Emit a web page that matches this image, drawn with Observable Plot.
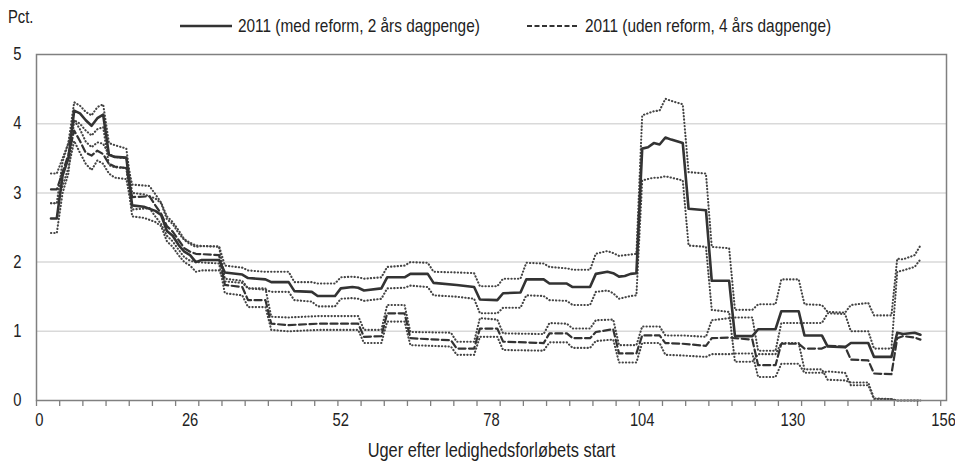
<!DOCTYPE html>
<html lang="da">
<head>
<meta charset="utf-8">
<script src="https://cdn.jsdelivr.net/npm/d3@7"></script>
<script src="https://cdn.jsdelivr.net/npm/@observablehq/plot@0.6"></script>
<style>
  html, body { margin: 0; padding: 0; background: #fff; }
  #wrap { position: relative; width: 955px; height: 465px; font-family: "Liberation Sans", Arial, sans-serif; color: #222; }
  #pct { position: absolute; left: 8px; top: 7px; font-size: 18px; transform: scaleX(0.82); transform-origin: left center; }
  .legend { position: absolute; top: 15px; font-size: 19px; display: flex; align-items: center; white-space: nowrap; }
  .legend svg { margin-right: 6px; flex: none; }
  .legend span { display: inline-block; transform: scaleX(0.81); transform-origin: left center; }
</style>
</head>
<body>
<div id="wrap">
  <div id="chart"></div>
  <div id="pct">Pct.</div>
  <div class="legend" style="left:180px"><svg width="52" height="10"><line x1="0" x2="52" y1="5" y2="5" stroke="#333" stroke-width="2.5"/></svg><span id="lab1"></span></div>
  <div class="legend" style="left:527px"><svg width="52" height="10"><line x1="0" x2="52" y1="5" y2="5" stroke="#333" stroke-width="2" stroke-dasharray="5,2.5"/></svg><span id="lab2"></span></div>
</div>
<script>
// Series names
const seriesNames = ["2011 (med reform, 2 års dagpenge)", "2011 (uden reform, 4 års dagpenge)"];

// Axis ticks
const yTicks = [0, 1, 2, 3, 4, 5];
const xLabels = [0, 26, 52, 78, 104, 130, 156];
const xTickMarks = d3.range(-0.5, 156, 4);

// Med reform: weeks where the series changes, with estimate and band
const weeksReform = [
  2, 3, 4, 5, 6, 7, 8, 9, 10, 11, 12,
  13, 15, 16, 18, 20, 21, 22, 23, 24, 25,
  26, 27, 28, 31, 32, 35, 36, 39, 40, 43,
  44, 47, 48, 51, 52, 54, 55, 56, 59, 60,
  63, 64, 67, 68, 72, 75, 76, 79, 80, 83,
  84, 87, 88, 91, 92, 95, 96, 98, 99, 100,
  101, 102, 103, 104, 105, 106, 107, 108, 109, 111,
  112, 115, 116, 119, 120, 123, 124, 127, 128, 131,
  132, 135, 136, 139, 140, 143, 144, 147, 148, 149,
  151, 152
];
const reformMid = [
  2.63, 2.63, 3.25, 3.50, 4.19, 4.15, 4.05, 3.97, 4.08, 4.13, 3.55,
  3.52, 3.51, 2.82, 2.80, 2.74, 2.68, 2.45, 2.38, 2.25, 2.15,
  2.10, 2.00, 2.03, 2.03, 1.85, 1.82, 1.77, 1.75, 1.71, 1.71,
  1.58, 1.57, 1.51, 1.51, 1.62, 1.64, 1.63, 1.59, 1.62, 1.78,
  1.78, 1.83, 1.83, 1.70, 1.67, 1.64, 1.46, 1.45, 1.55, 1.56,
  1.75, 1.75, 1.69, 1.69, 1.64, 1.64, 1.83, 1.86, 1.84, 1.79,
  1.80, 1.83, 1.84, 3.64, 3.66, 3.72, 3.70, 3.80, 3.77, 3.72,
  2.77, 2.75, 1.73, 1.73, 0.93, 0.93, 1.03, 1.03, 1.29, 1.29,
  0.94, 0.94, 0.78, 0.77, 0.83, 0.83, 0.63, 0.63, 0.98, 0.96,
  0.98, 0.95
];
const reformHigh = [
  2.85, 2.85, 3.45, 3.72, 4.31, 4.26, 4.17, 4.12, 4.24, 4.28, 3.72,
  3.69, 3.64, 3.00, 2.98, 2.92, 2.85, 2.62, 2.55, 2.42, 2.32,
  2.26, 2.22, 2.23, 2.23, 1.95, 1.92, 1.88, 1.86, 1.86, 1.86,
  1.71, 1.71, 1.69, 1.69, 1.78, 1.79, 1.78, 1.76, 1.78, 1.93,
  1.95, 2.00, 1.99, 1.86, 1.85, 1.84, 1.65, 1.65, 1.76, 1.76,
  1.99, 1.98, 1.93, 1.91, 1.89, 1.89, 2.12, 2.16, 2.13, 2.09,
  2.10, 2.11, 2.12, 4.12, 4.15, 4.18, 4.19, 4.36, 4.33, 4.28,
  3.30, 3.28, 2.22, 2.20, 1.31, 1.31, 1.39, 1.39, 1.75, 1.75,
  1.39, 1.38, 1.28, 1.27, 1.38, 1.41, 1.23, 1.23, 2.05, 2.04,
  2.10, 2.24
];
const reformLow = [
  2.42, 2.42, 3.00, 3.28, 4.05, 4.00, 3.90, 3.83, 3.92, 3.95, 3.40,
  3.37, 3.36, 2.66, 2.64, 2.58, 2.52, 2.30, 2.22, 2.10, 2.00,
  1.95, 1.86, 1.88, 1.88, 1.72, 1.70, 1.62, 1.60, 1.57, 1.57,
  1.45, 1.43, 1.36, 1.36, 1.47, 1.48, 1.47, 1.44, 1.47, 1.62,
  1.63, 1.66, 1.64, 1.52, 1.50, 1.47, 1.26, 1.26, 1.34, 1.34,
  1.52, 1.51, 1.45, 1.44, 1.38, 1.38, 1.57, 1.59, 1.55, 1.47,
  1.49, 1.51, 1.52, 3.18, 3.20, 3.22, 3.22, 3.24, 3.22, 3.18,
  2.24, 2.22, 1.31, 1.28, 0.56, 0.56, 0.67, 0.67, 0.83, 0.83,
  0.45, 0.45, 0.30, 0.29, 0.26, 0.26, 0.03, 0.02, 0.00, 0.00,
  0.00, 0.00
];

// Uden reform: weeks where the series changes, with estimate and band
const weeksNoReform = [
  2, 3, 4, 5, 6, 7, 8, 9, 10, 11, 12,
  13, 15, 16, 19, 20, 21, 22, 23, 24, 25,
  26, 27, 31, 32, 35, 36, 39, 40, 43, 48,
  55, 56, 59, 60, 63, 64, 71, 72, 75, 76,
  79, 80, 87, 88, 91, 92, 95, 96, 99, 100,
  103, 104, 107, 108, 111, 115, 116, 119, 120, 123,
  124, 127, 128, 131, 132, 135, 136, 139, 140, 143,
  144, 147, 148, 149, 151, 152
];
const noReformMid = [
  3.05, 3.05, 3.30, 3.55, 3.90, 3.75, 3.58, 3.54, 3.61, 3.56, 3.42,
  3.38, 3.36, 2.94, 2.95, 2.82, 2.70, 2.52, 2.44, 2.32, 2.20,
  2.15, 2.12, 2.10, 1.67, 1.64, 1.45, 1.45, 1.11, 1.09, 1.11,
  1.11, 0.92, 0.93, 1.26, 1.26, 0.90, 0.87, 0.75, 0.75, 1.04,
  1.04, 0.85, 0.83, 0.97, 0.97, 0.90, 0.90, 0.99, 1.03, 0.68,
  0.68, 0.94, 0.94, 0.83, 0.82, 0.79, 0.90, 0.91, 0.90, 0.88,
  0.51, 0.51, 0.82, 0.82, 0.75, 0.75, 0.79, 0.78, 0.59, 0.58,
  0.39, 0.38, 0.90, 0.93, 0.91, 0.88
];
const noReformHigh = [
  3.28, 3.28, 3.50, 3.72, 4.05, 3.92, 3.74, 3.66, 3.73, 3.71, 3.56,
  3.52, 3.50, 3.12, 3.10, 2.98, 2.86, 2.66, 2.58, 2.46, 2.33,
  2.28, 2.24, 2.22, 1.76, 1.73, 1.62, 1.62, 1.21, 1.20, 1.22,
  1.22, 1.02, 1.02, 1.38, 1.38, 0.99, 0.98, 0.85, 0.85, 1.19,
  1.17, 0.97, 0.96, 1.12, 1.11, 1.04, 1.04, 1.16, 1.17, 0.80,
  0.80, 1.07, 1.07, 0.94, 0.94, 0.92, 1.16, 1.19, 1.20, 1.20,
  0.72, 0.72, 1.12, 1.12, 1.12, 1.12, 1.26, 1.25, 1.00, 1.00,
  0.75, 0.75, 1.86, 1.88, 1.93, 2.04
];
const noReformLow = [
  2.85, 2.85, 3.10, 3.36, 3.75, 3.58, 3.42, 3.33, 3.47, 3.42, 3.28,
  3.22, 3.20, 2.76, 2.78, 2.66, 2.55, 2.38, 2.30, 2.18, 2.07,
  2.02, 2.00, 1.98, 1.55, 1.52, 1.35, 1.35, 1.02, 1.00, 1.02,
  1.02, 0.83, 0.83, 1.14, 1.14, 0.80, 0.78, 0.66, 0.66, 0.92,
  0.92, 0.73, 0.72, 0.84, 0.84, 0.76, 0.76, 0.86, 0.88, 0.55,
  0.55, 0.83, 0.83, 0.66, 0.65, 0.63, 0.67, 0.67, 0.68, 0.68,
  0.34, 0.34, 0.53, 0.53, 0.40, 0.40, 0.42, 0.40, 0.22, 0.22,
  0.02, 0.02, 0.00, 0.00, 0.00, 0.00
];

const rowsReform = weeksReform.map((week, i) => ({week, mid: reformMid[i], high: reformHigh[i], low: reformLow[i]}));
const rowsNoReform = weeksNoReform.map((week, i) => ({week, mid: noReformMid[i], high: noReformHigh[i], low: noReformLow[i]}));

document.getElementById("lab1").textContent = seriesNames[0];
document.getElementById("lab2").textContent = seriesNames[1];

const ink = "#333";
const dotted = {stroke: "#444", strokeWidth: 2.1, strokeDasharray: "0.3,3", strokeLinecap: "round"};

const chart = Plot.plot({
  width: 955,
  height: 465,
  marginTop: 54,
  marginRight: 9,
  marginBottom: 65,
  marginLeft: 36,
  x: {domain: [-0.5, 156.5]},
  y: {domain: [0, 5]},
  style: {fontFamily: '"Liberation Sans", Arial, sans-serif', fontSize: "18px", color: "#222", background: "#fff", overflow: "visible"},
  marks: [
    Plot.gridY(yTicks.filter(d => d > 0 && d < 5), {stroke: "#d9d9d9", strokeOpacity: 1, strokeWidth: 1.5}),
    Plot.axisY({ticks: yTicks, tickSize: 0, tickPadding: 15, tickFormat: d => String(d), label: null}),
    Plot.axisX({ticks: xTickMarks, tickSize: 6, tickFormat: () => "", stroke: "#7f7f7f", strokeWidth: 1.3, label: null}),
    Plot.axisX({ticks: xLabels, tickSize: 0, tickPadding: 13, tickFormat: d => String(d),
      label: "Uger efter ledighedsforløbets start", labelAnchor: "center", labelOffset: 56, labelArrow: false}),
    Plot.line(rowsReform, {x: "week", y: "high", ...dotted}),
    Plot.line(rowsReform, {x: "week", y: "low", ...dotted}),
    Plot.line(rowsNoReform, {x: "week", y: "high", ...dotted}),
    Plot.line(rowsNoReform, {x: "week", y: "low", ...dotted}),
    Plot.line(rowsNoReform, {x: "week", y: "mid", stroke: ink, strokeWidth: 2.2, strokeDasharray: "7,3.5"}),
    Plot.line(rowsReform, {x: "week", y: "mid", stroke: ink, strokeWidth: 2.6}),
    Plot.frame({stroke: "#808080", strokeWidth: 1.5})
  ]
});

// Narrow the lettering of every SVG text about its own anchor point
d3.select(chart).selectAll("text").each(function() {
  const ax = +this.getAttribute("x") || 0;
  const t = this.getAttribute("transform") || "";
  this.setAttribute("transform", `${t} translate(${ax},0) scale(0.82,1) translate(${-ax},0)`);
});
// The axis title is set a little larger than the tick labels
d3.select(chart).selectAll('[aria-label="x-axis label"] text').style("font-size", "20px");

document.getElementById("chart").appendChild(chart);
</script>
</body>
</html>
